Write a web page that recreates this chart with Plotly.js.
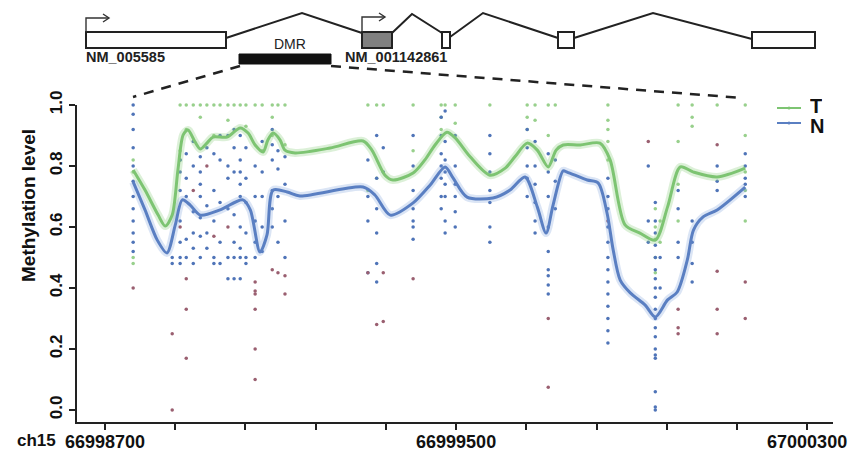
<!DOCTYPE html>
<html><head><meta charset="utf-8">
<script src="https://cdn.plot.ly/plotly-3.0.1.min.js"></script>
<style>html,body{margin:0;padding:0;background:#fff}#chart{width:853px;height:456px}</style>
</head><body><div id="chart"></div>
<script>
// ---------------- data ----------------
const chrom = 'ch15';
const sites = [66998764, 66998853, 66998871, 66998885, 66998901, 66998917, 66998932, 66998948, 66998962, 66998980,
  66998994, 66999008, 66999021, 66999042, 66999058, 66999081, 66999094, 66999110, 66999299, 66999319,
  66999334, 66999402, 66999466, 66999475, 66999498, 66999577, 66999662, 66999680, 66999710, 66999726,
  66999846, 66999938, 66999954, 66999965, 67000006, 67000038, 67000095, 67000159];
const nVals = [
  [1.0, 0.97, 0.92, 0.86, 0.8, 0.75, 0.7, 0.66, 0.62, 0.58, 0.55, 0.52],
  [0.5, 0.48],
  [0.82, 0.78, 0.72, 0.62, 0.55, 0.5, 0.48],
  [0.84, 0.76, 0.7, 0.56, 0.5],
  [0.88, 0.8, 0.65, 0.58, 0.53, 0.48],
  [0.83, 0.78, 0.74, 0.7, 0.63, 0.57, 0.5],
  [0.86, 0.67, 0.58, 0.53],
  [0.84, 0.72, 0.62, 0.5, 0.48],
  [0.9, 0.82, 0.68, 0.55, 0.48],
  [0.9, 0.8, 0.76, 0.66, 0.5, 0.43],
  [0.92, 0.86, 0.78, 0.64, 0.55, 0.5, 0.43],
  [0.9, 0.82, 0.78, 0.74, 0.7, 0.6, 0.53, 0.5, 0.43],
  [0.86, 0.76, 0.68, 0.58, 0.5, 0.48],
  [0.8, 0.7, 0.62, 0.55, 0.5],
  [0.88, 0.78, 0.7, 0.6, 0.52],
  [0.92, 0.87, 0.82, 0.72, 0.66, 0.6],
  [0.85, 0.79, 0.7, 0.55],
  [0.83, 0.74, 0.62, 0.5],
  [0.82, 0.7, 0.62, 0.45],
  [0.9, 0.76, 0.66, 0.58, 0.48, 0.42],
  [0.86, 0.78],
  [0.9, 0.8, 0.72, 0.66, 0.62, 0.6, 0.56],
  [0.96, 0.9, 0.84, 0.8, 0.76, 0.7, 0.66],
  [0.98, 0.88, 0.82, 0.78, 0.74, 0.7, 0.62, 0.58],
  [0.9, 0.8, 0.74, 0.7, 0.65, 0.6],
  [0.9, 0.84, 0.78, 0.72, 0.68, 0.6, 0.55],
  [0.92, 0.86, 0.8, 0.76, 0.7],
  [0.88, 0.8, 0.74, 0.68, 0.62, 0.58],
  [0.84, 0.78, 0.7, 0.6, 0.52, 0.46, 0.44, 0.41, 0.38],
  [0.82, 0.75, 0.66],
  [0.76, 0.7, 0.66, 0.6, 0.55, 0.5, 0.46, 0.42, 0.38, 0.34, 0.3, 0.26, 0.22],
  [0.8, 0.62, 0.55],
  [0.68, 0.62, 0.58, 0.54, 0.5, 0.46, 0.43, 0.4, 0.37, 0.33, 0.3, 0.27, 0.24, 0.2, 0.18, 0.17, 0.06, 0.01, 0.0],
  [0.5, 0.4],
  [0.72, 0.66, 0.55, 0.5],
  [0.62, 0.55, 0.48, 0.42],
  [0.8, 0.75, 0.72],
  [0.84, 0.8, 0.76, 0.74, 0.7]
];
const tVals = [
  [0.82, 0.78, 0.5, 0.48], [], [1.0, 0.85, 0.82], [1.0, 0.92], [1.0], [1.0, 0.96], [1.0], [1.0, 0.9], [1.0], [1.0, 0.95],
  [1.0], [1.0], [1.0, 0.93], [1.0], [1.0, 0.85], [1.0, 0.96, 0.9], [1.0], [1.0, 0.87], [1.0, 0.72], [1.0, 0.76],
  [1.0], [1.0, 0.85], [1.0, 0.96, 0.92], [1.0], [1.0, 0.94], [1.0], [1.0, 0.96, 0.92], [1.0, 0.95], [1.0, 0.9], [1.0],
  [1.0, 0.95, 0.92, 0.88, 0.82], [], [0.66, 0.6, 0.56, 0.5, 0.45], [0.62, 0.55], [1.0, 0.88, 0.74, 0.62], [1.0, 0.96, 0.93],
  [1.0], [1.0, 0.9, 0.78, 0.72, 0.62]
];
const rVals = [
  [0.4], [0.25, 0.0], [0.6], [0.43, 0.33, 0.17], [0.72], [], [0.8], [0.57], [], [0.6],
  [], [], [], [0.42, 0.39, 0.38, 0.33, 0.2, 0.1], [], [0.46], [0.45], [0.44, 0.38], [0.45], [0.28],
  [0.45, 0.29], [0.43], [], [], [], [], [], [], [0.3, 0.075], [],
  [0.62], [0.88], [], [], [0.33, 0.27, 0.25], [], [0.87, 0.455, 0.33, 0.25], [0.42, 0.3]
];
// smoothed methylation curves
const tLineX = [66998764, 66998791, 66998821, 66998837, 66998853, 66998866, 66998878, 66998889, 66998905, 66998917,
  66998932, 66998946, 66998978, 66999008, 66999026, 66999042, 66999060, 66999071, 66999083, 66999099,
  66999110, 66999133, 66999213, 66999288, 66999308, 66999338, 66999356, 66999402, 66999429, 66999452,
  66999479, 66999498, 66999532, 66999577, 66999612, 66999634, 66999662, 66999685, 66999710, 66999728,
  66999744, 66999783, 66999828, 66999851, 66999885, 66999919, 66999954, 66999982, 67000011, 67000041,
  67000095, 67000159];
const tLineY = [0.787, 0.721, 0.639, 0.603, 0.639, 0.787, 0.902, 0.918, 0.879, 0.856,
  0.875, 0.895, 0.895, 0.925, 0.908, 0.869, 0.846, 0.885, 0.908, 0.885,
  0.852, 0.843, 0.859, 0.882, 0.852, 0.770, 0.754, 0.777, 0.820, 0.869,
  0.911, 0.892, 0.830, 0.770, 0.793, 0.830, 0.875, 0.852, 0.797, 0.852,
  0.869, 0.869, 0.875, 0.820, 0.607, 0.580, 0.557, 0.666, 0.797, 0.780,
  0.764, 0.793];
const nLineX = [66998764, 66998791, 66998819, 66998841, 66998860, 66998876, 66998894, 66998917, 66998962, 66999014,
  66999031, 66999053, 66999069, 66999083, 66999115, 66999144, 66999288, 66999315, 66999350, 66999402,
  66999441, 66999475, 66999493, 66999525, 66999584, 66999623, 66999657, 66999685, 66999705, 66999721,
  66999744, 66999753, 66999799, 66999824, 66999844, 66999858, 66999874, 66999897, 66999931, 66999954,
  66999982, 67000004, 67000027, 67000041, 67000063, 67000095, 67000159];
const nLineY = [0.748, 0.656, 0.557, 0.515, 0.607, 0.689, 0.672, 0.639, 0.656, 0.689,
  0.656, 0.518, 0.574, 0.721, 0.715, 0.702, 0.731, 0.705, 0.639, 0.679,
  0.738, 0.797, 0.761, 0.698, 0.695, 0.721, 0.764, 0.666, 0.580, 0.672,
  0.784, 0.780, 0.754, 0.744, 0.646, 0.525, 0.426, 0.384, 0.344, 0.305,
  0.361, 0.387, 0.492, 0.590, 0.633, 0.656, 0.731];
const xTickVals = [66998700, 66998860, 66999020, 66999180, 66999340, 66999500, 66999660, 66999820, 66999980, 67000140, 67000300];
const xTickText = ['66998700', '', '', '', '', '66999500', '', '', '', '', '67000300'];
const yTickVals = [0, 0.2, 0.4, 0.6, 0.8, 1.0];
const yTickText = ['0.0', '0.2', '0.4', '0.6', '0.8', '1.0'];
const seriesNames = ['T', 'N'];
const geneNames = ['NM_005585', 'NM_001142861'];
const regionName = 'DMR';
const yTitle = 'Methylation level';

// ---------------- build ----------------
function flatten(vals) {
  const xs = [], ys = [];
  vals.forEach((arr, i) => arr.forEach(v => { xs.push(sites[i]); ys.push(v); }));
  return {xs, ys};
}
const nPts = flatten(nVals), tPts = flatten(tVals), rPts = flatten(rVals);

const GREEN = '#7dc472', BLUE = '#5a7fc2';
const SANS = '"Liberation Sans", Arial, sans-serif';

const traces = [
  {x: tPts.xs, y: tPts.ys, type: 'scatter', mode: 'markers', name: 'T samples', showlegend: false, cliponaxis: false,
   marker: {size: 3.5, color: '#98d08c'}},
  {x: nPts.xs, y: nPts.ys, type: 'scatter', mode: 'markers', name: 'N samples', showlegend: false, cliponaxis: false,
   marker: {size: 3.5, color: '#4f74b8'}},
  {x: rPts.xs, y: rPts.ys, type: 'scatter', mode: 'markers', name: 'other', showlegend: false, cliponaxis: false,
   marker: {size: 3.5, color: '#9a5f70'}},
  {x: tLineX, y: tLineY, type: 'scatter', mode: 'lines', showlegend: false, hoverinfo: 'skip',
   line: {color: 'rgba(140,205,125,0.3)', width: 8, shape: 'spline', smoothing: 0.8}},
  {x: nLineX, y: nLineY, type: 'scatter', mode: 'lines', showlegend: false, hoverinfo: 'skip',
   line: {color: 'rgba(110,150,215,0.25)', width: 8, shape: 'spline', smoothing: 0.8}},
  {x: tLineX, y: tLineY, type: 'scatter', mode: 'lines', name: seriesNames[0], showlegend: false,
   line: {color: GREEN, width: 3, shape: 'spline', smoothing: 0.8}},
  {x: nLineX, y: nLineY, type: 'scatter', mode: 'lines', name: seriesNames[1], showlegend: false,
   line: {color: BLUE, width: 3, shape: 'spline', smoothing: 0.8}}
];

// pixel -> paper helpers for the gene diagram
const L = 77, R = 20, T = 105, B = 34, W = 853, H = 456;
const PW = W - L - R, PH = H - T - B;
const X = px => (px - L) / PW;
const Y = py => (H - B - py) / PH;

// gene diagram (schematic positions)
const exons = [[86, 226, '#ffffff'], [362, 392, '#808080'], [442, 450, '#ffffff'], [558, 574, '#ffffff'], [752, 815, '#ffffff']];
const introns = [[226, 38, 302, 13, 362, 33], [392, 33, 412, 14, 442, 33], [450, 37, 483, 13, 558, 38], [574, 38, 653, 13, 752, 39]];
const tss = [[86, 32, 18, 109], [362, 32, 17, 385]];
const dmrBar = [239, 331, 54, 64];

const shapes = [];
introns.forEach(s => shapes.push({type: 'path', xref: 'paper', yref: 'paper',
  path: `M${X(s[0])},${Y(s[1])} L${X(s[2])},${Y(s[3])} L${X(s[4])},${Y(s[5])}`, line: {color: '#222', width: 2}}));
exons.forEach(e => shapes.push({type: 'rect', xref: 'paper', yref: 'paper', x0: X(e[0]), x1: X(e[1]), y0: Y(48), y1: Y(32),
  fillcolor: e[2], line: {color: '#222', width: 2}}));
tss.forEach(a => {
  shapes.push({type: 'path', xref: 'paper', yref: 'paper',
    path: `M${X(a[0])},${Y(a[1])} L${X(a[0])},${Y(a[2])} L${X(a[3])},${Y(a[2])}`, line: {color: '#333', width: 1.4}});
  shapes.push({type: 'path', xref: 'paper', yref: 'paper',
    path: `M${X(a[3] - 6)},${Y(a[2] - 4)} L${X(a[3])},${Y(a[2])} L${X(a[3] - 6)},${Y(a[2] + 4)}`, line: {color: '#333', width: 1.4}});
});
shapes.push({type: 'rect', xref: 'paper', yref: 'paper', x0: X(dmrBar[0]), x1: X(dmrBar[1]), y0: Y(dmrBar[3]), y1: Y(dmrBar[2]),
  fillcolor: '#111', line: {color: '#111', width: 1}});
shapes.push({type: 'line', xref: 'paper', yref: 'paper', x0: X(240), y0: Y(66), x1: X(133), y1: Y(97),
  line: {color: '#222', width: 2.5, dash: '10px,8px'}});
shapes.push({type: 'line', xref: 'paper', yref: 'paper', x0: X(331), y0: Y(66), x1: X(742), y1: Y(98),
  line: {color: '#222', width: 2.5, dash: '10px,8px'}});
// legend samples
shapes.push({type: 'line', xref: 'paper', yref: 'paper', x0: X(777), x1: X(801), y0: Y(108), y1: Y(108), line: {color: GREEN, width: 2}});
shapes.push({type: 'line', xref: 'paper', yref: 'paper', x0: X(777), x1: X(801), y0: Y(123), y1: Y(123), line: {color: BLUE, width: 2}});
shapes.push({type: 'circle', xref: 'paper', yref: 'paper', x0: X(787.5), x1: X(790.5), y0: Y(109.5), y1: Y(106.5), fillcolor: GREEN, line: {width: 0}});
shapes.push({type: 'circle', xref: 'paper', yref: 'paper', x0: X(787.5), x1: X(790.5), y0: Y(124.5), y1: Y(121.5), fillcolor: BLUE, line: {width: 0}});

const annotations = [
  {text: regionName, xref: 'paper', yref: 'paper', x: X(290), y: Y(44), showarrow: false, xanchor: 'center', yanchor: 'middle',
   font: {family: SANS, size: 14, color: '#222'}},
  {text: geneNames[0], xref: 'paper', yref: 'paper', x: X(84), y: Y(57), showarrow: false, xanchor: 'left', yanchor: 'middle',
   font: {family: SANS, size: 14.5, color: '#222', weight: 'bold'}},
  {text: geneNames[1], xref: 'paper', yref: 'paper', x: X(343), y: Y(57), showarrow: false, xanchor: 'left', yanchor: 'middle',
   font: {family: SANS, size: 14.5, color: '#222', weight: 'bold'}},
  {text: chrom, xref: 'paper', yref: 'paper', x: X(36), y: Y(440), showarrow: false, xanchor: 'center', yanchor: 'middle',
   font: {family: SANS, size: 17, color: '#111', weight: 'bold'}},
  {text: yTitle, xref: 'paper', yref: 'paper', x: X(28), y: Y(206), showarrow: false, textangle: -90, xanchor: 'center', yanchor: 'middle',
   font: {family: SANS, size: 19, color: '#111', weight: 'bold'}},
  {text: seriesNames[0], xref: 'paper', yref: 'paper', x: X(808), y: Y(106), showarrow: false, xanchor: 'left', yanchor: 'middle',
   height: 18, font: {family: SANS, size: 20, color: '#111', weight: 'bold'}},
  {text: seriesNames[1], xref: 'paper', yref: 'paper', x: X(808), y: Y(126), showarrow: false, xanchor: 'left', yanchor: 'middle',
   height: 18, font: {family: SANS, size: 20, color: '#111', weight: 'bold'}}
];

const layout = {
  width: W, height: H,
  margin: {l: L, r: R, t: T, b: B, pad: 0},
  paper_bgcolor: '#fff', plot_bgcolor: '#fff',
  showlegend: false,
  xaxis: {range: [66998636, 67000359], showgrid: false, zeroline: false, showline: true, linecolor: '#222', linewidth: 2,
    ticks: 'outside', ticklen: 6, tickwidth: 2, tickcolor: '#222', tickmode: 'array', tickvals: xTickVals, ticktext: xTickText,
    ticklabelstandoff: -4, tickfont: {family: SANS, size: 18, color: '#111', weight: 'bold'}},
  yaxis: {range: [-0.0393, 1.0], showgrid: false, zeroline: false, showline: true, linecolor: '#222', linewidth: 2,
    ticks: 'outside', ticklen: 6, tickwidth: 2, tickcolor: '#222', tickmode: 'array', tickvals: yTickVals, ticktext: yTickText,
    tickangle: -90, tickfont: {family: SANS, size: 17, color: '#111', weight: 'bold'}},
  shapes, annotations
};

Plotly.newPlot('chart', traces, layout, {displayModeBar: false, staticPlot: true});
</script></body></html>
